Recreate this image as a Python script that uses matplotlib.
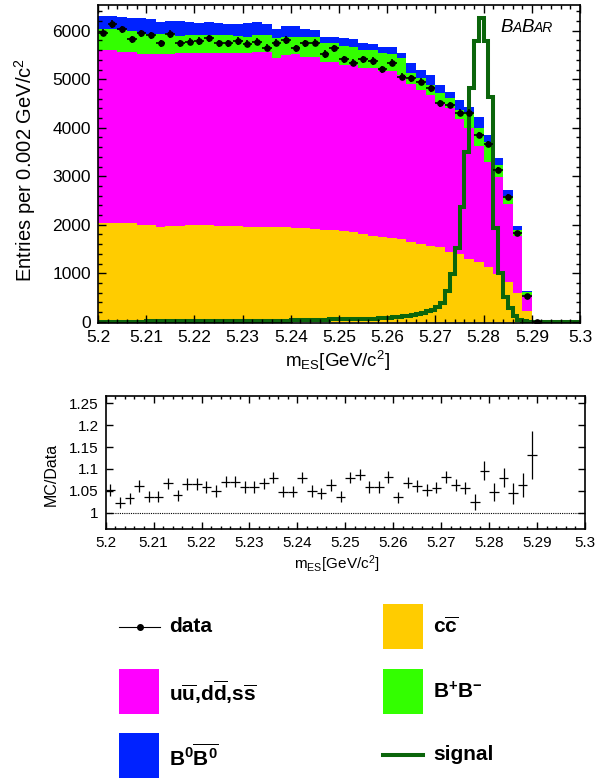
import numpy as np
import matplotlib
matplotlib.use('Agg')
import matplotlib.pyplot as plt
from matplotlib.ticker import MultipleLocator, FuncFormatter
from matplotlib.patches import Rectangle
from matplotlib.lines import Line2D

plt.rcParams['font.family'] = 'Liberation Sans'
plt.rcParams['mathtext.fontset'] = 'custom'
plt.rcParams['mathtext.rm'] = 'Liberation Sans'
plt.rcParams['mathtext.it'] = 'Liberation Sans:italic'
plt.rcParams['mathtext.bf'] = 'Liberation Sans:bold'

M_LOW, M_HIGH = 5.2, 5.3
BIN = 0.002
FINE_BIN = 0.001

# stacked MC, 0.002 GeV bins from 5.200 up to 5.290
CC = [2040, 2040, 2035, 2030, 1995, 1985, 1960, 1965, 1975, 1990,
      1995, 1985, 1975, 1970, 1965, 1960, 1955, 1960, 1950, 1945,
      1935, 1925, 1910, 1900, 1885, 1870, 1850, 1815, 1775, 1755,
      1720, 1700, 1650, 1605, 1570, 1545, 1445, 1395, 1285, 1225,
      1135, 995, 825, 600, 230]
UDS = [3565, 3560, 3535, 3530, 3525, 3530, 3550, 3555, 3570, 3555,
       3555, 3560, 3575, 3575, 3575, 3590, 3610, 3600, 3480, 3555,
       3595, 3540, 3550, 3465, 3475, 3415, 3440, 3420, 3455, 3420,
       3450, 3380, 3250, 3175, 3105, 2960, 2955, 2795, 2715, 2405,
       2155, 1985, 1605, 1170, 330]
BPBM = [425, 430, 440, 430, 415, 415, 420, 425, 345, 360,
        365, 365, 360, 365, 355, 330, 347, 350, 420, 380,
        347, 410, 410, 380, 380, 390, 380, 370, 370, 360,
        360, 350, 222, 239, 206, 204, 206, 175, 320, 360,
        422, 251, 162, 121, 46]
B0B0 = [273, 270, 270, 265, 320, 310, 240, 260, 310, 265,
        250, 260, 255, 235, 245, 270, 263, 220, 190, 217,
        218, 155, 145, 135, 130, 165, 150, 140, 120, 136,
        130, 104, 206, 166, 209, 171, 124, 200, 110, 237,
        138, 154, 124, 82, 27]

DATA = [5960, 6139, 6029, 5823, 5946, 5905, 5740, 5932, 5740, 5774,
        5788, 5843, 5740, 5740, 5788, 5733, 5774, 5650, 5753, 5809,
        5637, 5740, 5753, 5520, 5637, 5411, 5341, 5411, 5376, 5204,
        5341, 5052, 5019, 4949, 4812, 4503, 4468, 4310, 4310, 3850,
        3664, 3128, 2578, 1835, 530, 0]
DATA_ERR = [77, 78, 78, 76, 77, 77, 76, 77, 76, 76,
            76, 76, 76, 76, 76, 76, 76, 75, 76, 76,
            75, 76, 76, 74, 75, 74, 73, 74, 73, 72,
            73, 71, 71, 70, 69, 67, 67, 66, 66, 62,
            61, 56, 51, 43, 23, 0]

# signal MC in 0.001 GeV bins over the full range
SIGNAL = [5, 5, 5, 5, 5, 5, 5, 5, 5, 5,
          6, 6, 6, 6, 6, 7, 7, 7, 7, 7,
          8, 8, 8, 9, 9, 10, 10, 11, 11, 12,
          13, 14, 15, 16, 17, 18, 20, 21, 23, 25,
          27, 29, 31, 34, 37, 40, 43, 47, 51, 53,
          55, 57, 59, 61, 63, 55, 60, 65, 70, 75,
          80, 90, 100, 110, 125, 140, 160, 185, 215, 250,
          300, 390, 640, 980, 1520, 2370, 3500, 4810, 5780, 6270,
          5780, 4640, 1930, 1000, 520, 275, 110, 35, 10, 5,
          3, 2, 1, 1, 0, 0, 0, 0, 0, 0]

RATIO = [1.052, 1.023, 1.033, 1.061, 1.037, 1.037, 1.067, 1.040, 1.066, 1.066,
         1.059, 1.050, 1.071, 1.071, 1.059, 1.059, 1.067, 1.080, 1.048, 1.048,
         1.080, 1.050, 1.044, 1.063, 1.037, 1.080, 1.087, 1.059, 1.059, 1.082,
         1.035, 1.069, 1.061, 1.052, 1.057, 1.082, 1.063, 1.056, 1.024, 1.096,
         1.048, 1.080, 1.044, 1.063, 1.132]
RATIO_ERR = [0.013] * 36 + [0.014, 0.014, 0.018, 0.021, 0.021, 0.021,
                            0.023, 0.027, 0.055]

COLORS = {'cc': '#FFCC00', 'uds': '#FF00FF', 'bpbm': '#33FF00',
          'b0b0': '#0022FF', 'signal': '#0B650B'}


def fmt_g(v, pos):
    return '%g' % round(v, 4)


def style_axis(ax, size):
    ax.tick_params(which='both', direction='in', top=True, right=True,
                   width=1.0, labelsize=size)
    ax.tick_params(which='major', length=6)
    ax.tick_params(which='minor', length=3)
    ax.tick_params(axis='x', pad=5)
    ax.tick_params(axis='y', pad=5)
    for sp in ax.spines.values():
        sp.set_linewidth(1.2)
    ax.xaxis.set_major_locator(MultipleLocator(0.01))
    ax.xaxis.set_minor_locator(MultipleLocator(0.002))
    ax.xaxis.set_major_formatter(FuncFormatter(fmt_g))
    ax.set_xlim(M_LOW, M_HIGH)


def main():
    fig = plt.figure(figsize=(6.06, 7.8), dpi=100)

    # main distribution
    ax = fig.add_axes([98 / 606, 1 - 323 / 780, 482 / 606, 318 / 780])
    edges = M_LOW + BIN * np.arange(len(CC) + 1)
    base = np.zeros(len(CC))
    for vals, key in [(CC, 'cc'), (UDS, 'uds'), (BPBM, 'bpbm'), (B0B0, 'b0b0')]:
        top = base + np.array(vals)
        ax.stairs(top, edges, baseline=base, fill=True, color=COLORS[key], lw=0)
        base = top

    fine_edges = M_LOW + FINE_BIN * np.arange(len(SIGNAL) + 1)
    ax.stairs(SIGNAL, fine_edges, color=COLORS['signal'], lw=2.9)

    centers = M_LOW + BIN * (np.arange(len(DATA)) + 0.5)
    ax.errorbar(centers, DATA, yerr=DATA_ERR, xerr=BIN / 2, fmt='o', ms=3.8,
                color='black', elinewidth=1.2, capsize=0)

    style_axis(ax, 12.5)
    ax.set_ylim(-25, 6530)
    ax.yaxis.set_major_locator(MultipleLocator(1000))
    ax.yaxis.set_minor_locator(MultipleLocator(200))
    ax.set_ylabel('Entries per 0.002 GeV/c$^{2}$', fontsize=14.5)
    ax.yaxis.set_label_coords(-0.125, 0.48)
    ax.set_xlabel(r'm$_{\mathregular{ES}}$[GeV/c$^{2}$]', fontsize=13.5)
    ax.xaxis.set_label_coords(0.496, -0.08)

    # MC / data ratio
    ax2 = fig.add_axes([105.7 / 606, 1 - 529 / 780, 479.3 / 606, 133.3 / 780])
    rcent = M_LOW + BIN * (np.arange(len(RATIO)) + 0.5)
    ax2.errorbar(rcent, RATIO, yerr=RATIO_ERR, xerr=BIN / 2, fmt='none',
                 ecolor='black', elinewidth=0.9, capsize=0)
    ax2.axhline(1.0, color='black', lw=0.8, ls=(0, (1, 1)))
    style_axis(ax2, 11)
    ax2.tick_params(which='major', length=5)
    ax2.tick_params(which='minor', length=2.5)
    ax2.set_ylim(0.963, 1.267)
    ax2.yaxis.set_major_locator(MultipleLocator(0.05))
    ax2.yaxis.set_major_formatter(FuncFormatter(fmt_g))
    ax2.tick_params(axis='y', which='minor', left=False, right=False)
    ax2.set_ylabel('MC/Data', fontsize=11.5)
    ax2.yaxis.set_label_coords(-0.098, 0.41)
    ax2.set_xlabel(r'm$_{\mathregular{ES}}$[GeV/c$^{2}$]', fontsize=11)
    ax2.xaxis.set_label_coords(0.483, -0.18)

    # overlay in pixel units for the logo and the legend
    ov = fig.add_axes([0, 0, 1, 1])
    ov.set_xlim(0, 606)
    ov.set_ylim(780, 0)
    ov.axis('off')

    for x, s, size in [(500, 'B', 13.5), (512.5, 'A', 10), (521.5, 'B', 13.5),
                       (534, 'AR', 10)]:
        ov.text(x, 32, s, fontsize=size, style='italic', va='baseline')

    lab = dict(fontsize=15, fontweight='bold', va='center')
    ov.add_line(Line2D([119, 160], [627, 627], color='black', lw=0.8))
    ov.plot([140], [627], 'o', color='black', ms=4)
    ov.text(169, 627, 'data', **lab)

    boxes = [(383, 604, 'cc', r'$\mathbf{c\overline{c}}$'),
             (119, 669, 'uds', r'$\mathbf{u\overline{u}}$,$\mathbf{d\overline{d}}$,$\mathbf{s\overline{s}}$'),
             (383, 669, 'bpbm', r'$\mathbf{B^{+}B}^{\mathbf{-}}$'),
             (119, 733, 'b0b0', r'$\mathbf{B^{0}\overline{B^{0}}}$')]
    for x, y, key, text in boxes:
        ov.add_patch(Rectangle((x, y), 40, 45, color=COLORS[key], lw=0))
        ov.text(x + 50, y + 23, text, **lab)

    ov.add_line(Line2D([383, 423], [755, 755], color=COLORS['signal'], lw=2.9))
    ov.text(433, 755, 'signal', **lab)

    fig.savefig('out.png', dpi=100)


if __name__ == '__main__':
    main()
